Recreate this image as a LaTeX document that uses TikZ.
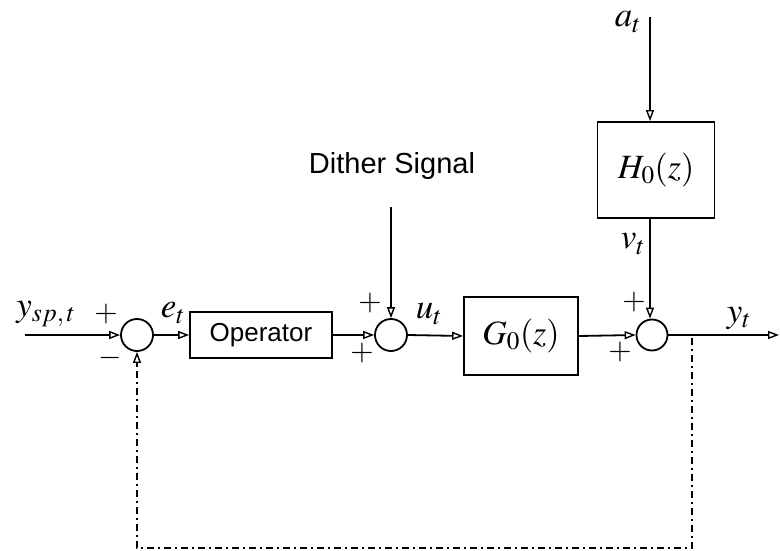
\documentclass[tikz,border=0pt]{standalone}
\usepackage{mathptmx}
\usepackage[no-math]{fontspec}
\setsansfont{Liberation Sans}
\usetikzlibrary{arrows.meta}
\begin{document}
\begin{tikzpicture}[x=1pt,y=-1pt,
  line width=1.8pt,
  sig/.style={-{Triangle[open,length=11pt,width=8pt,line width=1.4pt]}},
  sumnode/.style={circle,draw,minimum size=32pt,inner sep=0pt},
  blockbox/.style={draw,rectangle,inner sep=0pt},
  lbl/.style={font=\fontsize{35}{38}\selectfont},
  sgn/.style={font=\fontsize{30}{32}\selectfont,inner sep=0pt},
  fb/.style={line width=1.8pt,dash pattern=on 7pt off 4pt on 2pt off 4pt}]
\useasboundingbox (0,0) rectangle (780,551);
% nodes
\coordinate (in) at (25,335);
\node[sumnode] (s1) at (137,335) {};
\node[blockbox,minimum width=142pt,minimum height=46pt,font=\sffamily\fontsize{26}{28}\selectfont] (op) at (261,335) {Operator};
\node[sumnode] (s2) at (391,335) {};
\node[blockbox,minimum width=114pt,minimum height=78pt,font=\fontsize{34}{36}\selectfont] (g0) at (521,336) {$G_0(z)$};
\node[sumnode,minimum size=31pt] (s3) at (652,335) {};
\node[blockbox,minimum width=117pt,minimum height=96pt,font=\fontsize{34}{36}\selectfont] (h0) at (656,170) {$H_0(z)$};
\coordinate (out) at (779,335);
\coordinate (atop) at (650,17);
\coordinate (dtop) at (391,207);
\coordinate (fbr) at (692,338);
\coordinate (fbrb) at (692,548);
\coordinate (fblb) at (137,548);
% texts
\node[lbl] (lysp) at (46,314) {$y_{sp,\,t}$};
\node[lbl] (let) at (173,313) {$e_t$};
\node[lbl] (lut) at (429,314) {$u_t$};
\node[lbl] (lyt) at (739,318) {$y_t$};
\node[lbl] (lat) at (628,22) {$a_t$};
\node[lbl] (lvt) at (633,244) {$v_t$};
\node[font=\sffamily\fontsize{29}{32}\selectfont] (dith) at (392,166) {Dither Signal};
\node[sgn] (p1) at (106,314) {$+$};
\node[sgn] (m1) at (110,358) {$-$};
\node[sgn] (p2) at (370,303) {$+$};
\node[sgn] (p3) at (362,353) {$+$};
\node[sgn] (p4) at (634,302) {$+$};
\node[sgn] (p5) at (620,352) {$+$};
% connectors
\draw[sig] (in) -- (s1.west);
\draw[sig] (s1.east) -- (op.west);
\draw[sig] (op.east) -- (s2.west);
\draw[sig] (dtop) -- (s2.north);
\draw[sig] (s2.east) -- (g0.west);
\draw[sig] (g0.east) -- (s3.west);
\draw[sig] (s3.east) -- (out);
\draw[sig] (atop) -- (atop |- h0.north);
\draw[sig] (atop |- h0.south) -- (s3.north -| atop);
\draw[fb] (fbr) -- (fbrb) -- (fblb) -- ([yshift=-14pt]s1.south);
\draw[sig] ([yshift=-14pt]s1.south) -- (s1.south);
\end{tikzpicture}
\end{document}
